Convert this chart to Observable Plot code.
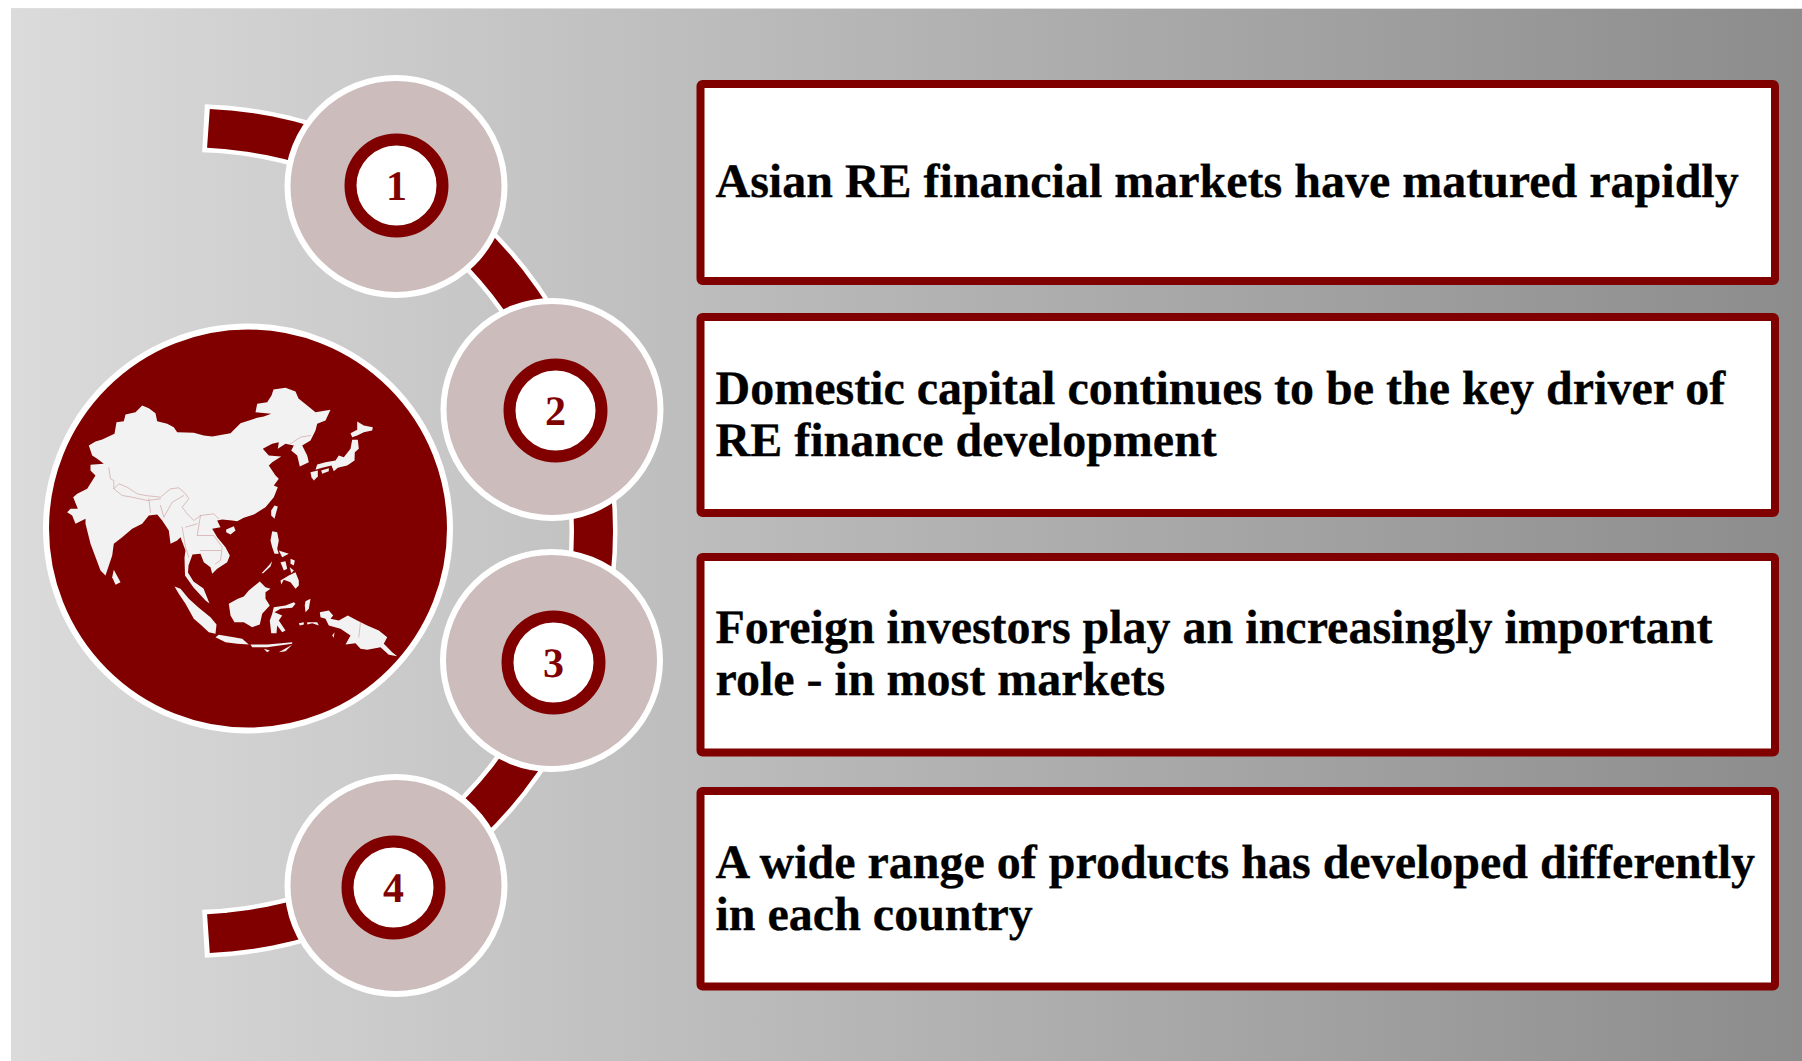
<!DOCTYPE html>
<html>
<head>
<meta charset="utf-8">
<style>
html,body{margin:0;padding:0;background:#fff;overflow:hidden}
svg{display:block}
svg text{text-rendering:geometricPrecision}
</style>
<script src="https://cdn.jsdelivr.net/npm/d3@7"></script>
<script src="https://cdn.jsdelivr.net/npm/@observablehq/plot@0.6"></script>
</head>
<body>
<div id="chart"></div>
<script>
// ---- content ----
const stepNumbers = ["1", "2", "3", "4"];
const statements = [
  "Asian RE financial markets have matured rapidly",
  "Domestic capital continues to be the key driver of\nRE finance development",
  "Foreign investors play an increasingly important\nrole - in most markets",
  "A wide range of products has developed differently\nin each country"
];

// ---- layout, on a 1802 x 1061 coordinate space ----
const discX = [395.5, 551.5, 551, 395.5];
const discY = [186, 409, 660, 885];
const ringX = [396, 555, 553, 393];
const ringY = [185, 410, 662, 887];
const boxTop = [84, 317, 557, 791];
const boxBottom = [281, 513, 752.5, 986.5];
const lastBaseline = [196, 455, 694.5, 929];

// ---- traced map shapes, x/y pairs ----
const mainland = [[88.3,445],[95,441],[101.7,439],[114,433.3],[116,421.7],[123.3,420.7],[125,414],[135,411.7],[141.7,405],[148.3,407.7],[155,412.7],[156.7,420.7],[166.7,423.3],[173.3,426.7],[176.7,431.7],[193.3,432.3],[203.3,435],[211.7,436],[230,432.7],[240,422.7],[256.7,417.3],[263.3,416],[270.7,413.3],[255,411.7],[256.7,403.3],[266.7,401.7],[271,395],[273,389],[285,387.3],[295,391],[298,398],[306.7,405],[315,411.7],[330,409.3],[325,420],[316.7,423.3],[315,430],[310,440],[301.7,445],[306.7,455],[308.3,461.7],[299.3,466],[296.7,455],[290.7,450],[293.3,445],[285,443.3],[277.3,448.3],[278.3,441.7],[271.7,443.3],[262.3,448.3],[268.3,455],[280.7,456],[271.7,461.7],[268.3,465],[275,475],[278.3,478.3],[273.3,485],[277.3,486.7],[273.3,496.7],[265,506.7],[253.3,514],[243.3,517.3],[236.7,520.7],[231.7,520],[221.7,519],[216.7,520],[220,526.7],[211.7,528.3],[216.7,536.7],[225,546.7],[229.3,555],[226.7,561.7],[216.7,568.3],[211.7,573.3],[210,566.7],[203.3,561.7],[200,553.3],[192,554],[188,565],[187.5,572],[193,581],[203,588],[209,603],[205,600],[193,587],[184.5,575],[184,557],[185,550],[180,536.7],[176.7,540],[170,543.3],[168.3,530],[161.7,520],[156.7,514],[148.3,515],[141.7,523.3],[131.7,528.3],[121.7,536.7],[113.3,543.3],[111.7,555],[105,575],[100,570],[90,543.3],[85,523.3],[85,518.3],[75,523.3],[71.7,515],[66.7,511.7],[70,508.3],[77.3,508.3],[72.7,496.7],[76.7,493.3],[86.7,488.3],[95,475],[90,470],[90,464.3],[103.3,463.3],[96.7,458.3],[91.7,455]];
const sriLanka = [[113.3,569.3],[120,581.7],[115,584.3],[111.7,576.7]];
const hainan = [[225.7,529],[233.3,525.7],[235,530],[230,534],[225.7,531.7]];
const taiwan = [[274,505],[277.3,506],[274,518.3],[270.7,515],[270.7,510]];
const hokkaido = [[356.7,421],[363.3,425],[372.3,426.7],[371.7,430],[363.3,431.7],[356.7,435],[351.7,436.7],[350,432.7],[356.7,429.3]];
const honshu = [[351.7,439.3],[357.3,439.3],[358.3,448.3],[354.3,451.7],[354,460],[346.7,465],[337.3,467.3],[333.3,470.7],[331,465],[321.7,467.3],[315,469.3],[316.7,464],[325,461.7],[335,460],[338.3,455],[343.3,456.7],[350,448.3]];
const shikoku = [[320.7,470],[328.3,467.7],[328.3,470.7],[321.7,473.3]];
const kyushu = [[310,471.7],[317.3,470],[317.3,476],[313.3,480],[311,476.7]];
const luzon = [[271.7,530.7],[276.7,531.7],[278.3,540],[276.7,548.3],[278.3,553.3],[274,553.3],[271.7,546.7],[270,540]];
const visayasA = [[280,561.7],[285,560.7],[286.7,568.3],[283.3,570]];
const visayasB = [[290,558.3],[294.3,560],[293.3,565],[290,563.3]];
const visayasC = [[278.3,550],[288.3,553.3],[281.7,556.7]];
const visayasD = [[289.3,566.7],[293.3,570],[290.7,572.7]];
const mindanao = [[280,580],[288.3,575],[295,571.7],[298.3,580],[298.3,585],[295,588.3],[290,581.7],[283.3,579.3],[280.7,584]];
const palawan = [[261,572.7],[268.3,565],[271.7,560.7],[270,566],[262.7,572.7]];
const borneo = [[228.3,603.3],[237.3,598.3],[243.3,596],[248.3,590],[259.3,581],[265,586.7],[270,588.3],[265,591.7],[265,598.3],[269.3,605],[261.7,613.3],[259.3,624],[251.7,626.7],[243.3,621.7],[234,621.7],[230,615]];
const sumatra = [[174,586],[180,588.3],[188.3,598.3],[198.3,607.3],[210,616.7],[216,624],[215,633.3],[208.3,631.7],[200,624],[193.3,618.3],[185,603.3],[178.3,593.3]];
const java = [[215,636.7],[218.3,634.3],[233.3,636.7],[241.7,638.3],[248.3,644],[236.7,643.3],[225,641.7]];
const sunda = [[250,644],[266.7,644],[291.7,641.7],[291.7,643.3],[266.7,646.7],[251.7,646.7]];
const timor = [[278.3,651.7],[291.7,644.3],[285,650.7]];
const sumba = [[263.3,648.3],[269.3,650],[266.7,651.7]];
const sulawesi = [[273.3,606.7],[285,605],[293.3,601.7],[295,603.3],[291.7,607.3],[280,608.3],[274,611.7],[281.7,615],[278.3,620],[285,630],[281.7,631.7],[276.7,625],[276,632.7],[270.7,632.7],[269.3,620],[271.7,613.3]];
const halmahera = [[305,600.7],[310,598.3],[308.3,608.3],[305,611.7],[304.3,605]];
const seram = [[306.7,621.7],[316.7,621.7],[318.3,625],[311.7,622.7],[306.7,624]];
const buru = [[298.3,622.7],[303.3,621.7],[303.3,624],[299.3,625]];
const newGuinea = [[319.3,611.7],[328.3,610],[332.7,615],[330,618.3],[338.3,620],[347.3,615],[356.7,620],[366.7,625],[378.3,630],[386.7,636.7],[383.3,643.3],[391.7,651.7],[396.7,655.7],[388.3,654.3],[380,646.7],[366.7,649.3],[360,648.3],[355,642.7],[345,644],[350,635],[340,628.3],[328.3,625],[325,618.3],[320,616.7]];
const aru = [[331.7,635],[334,631.7],[333.3,637.3]];
const landShapes = [mainland,sriLanka,hainan,taiwan,hokkaido,honshu,shikoku,kyushu,luzon,visayasA,visayasB,visayasC,visayasD,mindanao,palawan,borneo,sumatra,java,sunda,timor,sumba,sulawesi,halmahera,seram,buru,newGuinea,aru];
const borderLines = [
  [[108.3,467.3],[110,478.3],[113.3,480],[113.3,488.3],[118.3,483.3],[126.7,486.7],[136.7,493.3],[145,495],[160,496.7],[170,488.3],[178.3,487.3],[185,493.3],[188.3,498.3],[181.7,506.7],[186.7,513.3],[193.3,520],[200,515],[213.3,513.3],[218.3,518.3]],
  [[113.3,488.3],[121.7,495],[131.7,496.7],[146.7,500],[160,498.3]],
  [[160,505],[163.3,516.7],[171.7,501.7],[183.3,495]],
  [[200,515],[196.7,535],[213.3,535],[221.7,546.7],[220,560],[215,563.3]],
  [[181.7,526.7],[185,546.7],[188.3,556.7]],
  [[185,526.7],[196.7,523.3]],
  [[200,550],[220,550]],
  [[148.3,498.3],[150,511.7]],
  [[290,443.3],[300,436.7],[310,435]],
  [[360,621.7],[358.3,636.7]]
];

// ---- derived tables ----
const steps = stepNumbers.map((label, i) => ({label, dx: discX[i], dy: discY[i], rx: ringX[i], ry: ringY[i]}));
const boxes = statements.map((text, i) => ({text, top: boxTop[i], bottom: boxBottom[i], base: lastBaseline[i]}));
const flatten = (shapes) => shapes.flatMap((s, k) => s.map(([x, y]) => ({x, y, k})));
const arcPoints = (from, to) => d3.range(0, 61).map((i) => {
  const a = (from + (to - from) * i / 60) * Math.PI / 180;
  return {x: 190 + 403 * Math.cos(a), y: 530.5 + 403 * Math.sin(a)};
});

const maroon = "#800000";
const gradient = () => {
  const defs = d3.create("svg:defs");
  const g = defs.append("linearGradient").attr("id", "bg").attr("x1", "0").attr("x2", "1").attr("y1", "0").attr("y2", "0");
  g.append("stop").attr("offset", "0").attr("stop-color", "#dbdbdb");
  g.append("stop").attr("offset", "1").attr("stop-color", "#8c8c8c");
  return defs.node();
};
const serif = "'Liberation Serif', serif";

const chart = Plot.plot({
  width: 1802, height: 1061, margin: 0,
  x: {domain: [0, 1802], range: [0, 1802], axis: null},
  y: {domain: [0, 1061], range: [0, 1061], axis: null},
  style: {background: "transparent"},
  marks: [
    gradient,
    Plot.rect([0], {x1: 11, x2: 1802, y1: 8, y2: 9, fill: "#dedede"}),
    Plot.rect([0], {x1: 11, x2: 1802, y1: 9, y2: 1061, fill: "url(#bg)"}),
    // connecting band
    Plot.line(arcPoints(-88.15, 88.15), {x: "x", y: "y", stroke: "white", strokeWidth: 48, strokeLinecap: "butt", strokeLinejoin: "miter"}),
    Plot.line(arcPoints(-87.45, 87.45), {x: "x", y: "y", stroke: maroon, strokeWidth: 39, strokeLinecap: "butt", strokeLinejoin: "miter"}),
    // globe
    Plot.dot([0], {x: () => 247.5, y: () => 528, r: 202, fill: maroon, stroke: "white", strokeWidth: 6}),
    Plot.line(flatten(landShapes), {x: "x", y: "y", z: "k", fill: "#f2f2f2", stroke: "none", curve: "linear-closed"}),
    Plot.line(flatten(borderLines), {x: "x", y: "y", z: "k", stroke: "#c98f8f", strokeWidth: 0.7, strokeOpacity: 0.8}),
    // numbered discs
    Plot.dot(steps, {x: "dx", y: "dy", r: 108.5, fill: "#ccbcbc", stroke: "white", strokeWidth: 6}),
    Plot.dot(steps, {x: "rx", y: "ry", r: 46, fill: "white", stroke: maroon, strokeWidth: 12}),
    Plot.text(steps, {x: "rx", y: "ry", dy: 1, text: "label", fill: maroon, fontSize: 42, fontWeight: "bold", fontFamily: serif}),
    // statements
    Plot.rect(boxes, {x1: () => 700.5, x2: () => 1775, y1: "top", y2: "bottom", fill: "white", stroke: maroon, strokeWidth: 8, rx: 2}),
    Plot.text(boxes, {x: () => 715, y: "base", text: "text", textAnchor: "start", lineAnchor: "bottom", lineHeight: 1.077, fill: "black", fontSize: 48, fontWeight: "bold", fontFamily: serif, stroke: "black", strokeWidth: 0.3})
  ]
});
document.getElementById("chart").append(chart);
</script>
</body>
</html>
